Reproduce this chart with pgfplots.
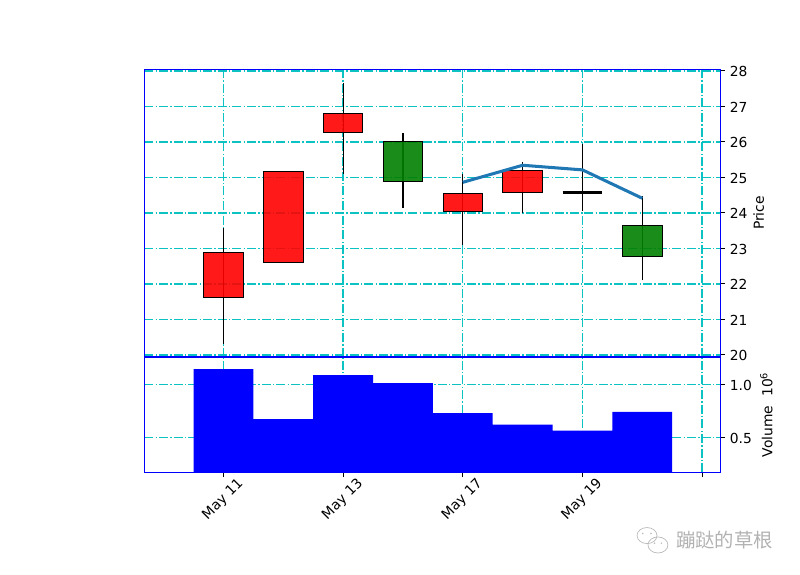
\documentclass[border=0pt]{standalone}
\usepackage{pgfplots}
\pgfplotsset{compat=1.18}
\usepackage{fontspec}
\setmainfont{DejaVu Sans}
\newfontfamily\cjk{Noto Sans CJK SC}
\definecolor{gridc}{rgb}{0,0.75,0.75}
\definecolor{tabblue}{HTML}{1F77B4}
\newcommand{\body}[4]{\addplot[draw=black,line width=0.75pt,fill=#4,fill opacity=0.9] coordinates {(#1-0.33,#2)(#1+0.33,#2)(#1+0.33,#3)(#1-0.33,#3)} -- cycle;}
\newcommand{\wick}[3]{\addplot[black,line width=0.8pt] coordinates {(#1,#2)(#1,#3)};}
\begin{document}
\begin{tikzpicture}
\path (0,0) rectangle (578.16pt,415.55pt);
\pgfplotsset{common/.style={
  scale only axis, anchor=south west,
  xmin=-1.32, xmax=8.30,
  xtick={0,2,4,6,8},
  axis line style={blue,line width=0.8pt},
  grid=major,
  major grid style={draw=gridc,draw opacity=0.95,line width=1pt,dash pattern=on 6.4pt off 1.6pt on 1pt off 1.6pt},
  ytick pos=right, yticklabel pos=right,
  tick align=outside, major tick style={draw=black,line width=0.6pt},
  major tick length=3.5pt,
  /pgf/number format/assume math mode=true,
  tick label style={font=\fontsize{10}{12}\selectfont},
  yticklabel style={yshift=-0.7pt},
  every axis y label/.style={at={(axis description cs:1,0.5)},rotate=90,anchor=center,font=\fontsize{10}{12}\selectfont},
}}
% Volume panel
\begin{axis}[common,
  at={(104.4pt,74.2pt)}, width=416pt, height=83.3pt,
  ymin=0.17, ymax=1.258,
  ytick={0.5,1.0}, yticklabels={0.5,1.0},
  xticklabels={May 11,May 13,May 17,May 19,},
  xtick pos=bottom,
  xticklabel style={rotate=45,anchor=center,xshift=-11.7pt,yshift=-11.3pt},
  ylabel={Volume\ \ 10\textsuperscript{6}},
  ylabel style={yshift=-33.5pt},
]
\addplot[ybar,bar width=1,bar shift=0pt,fill=blue,draw=none] coordinates {
(0,1.144)(1,0.672)(2,1.088)(3,1.012)(4,0.73)(5,0.62)(6,0.563)(7,0.74)};
\end{axis}
% Price panel
\begin{axis}[common,
  at={(104.4pt,157.8pt)}, width=416pt, height=207.6pt,
  ymin=19.95, ymax=28.04,
  ytick={20,21,...,28},
  xticklabels={},
  xtick style={draw=none},
  ylabel={Price},
  ylabel style={yshift=-28pt},
]
\wick{0}{20.32}{23.58}
\wick{2}{25.10}{27.67}
\wick{3}{24.14}{26.24}
\wick{4}{23.09}{25.08}
\wick{5}{23.99}{25.44}
\wick{6}{24.06}{25.93}
\wick{7}{22.10}{24.48}
\body{0}{21.61}{22.89}{red}
\body{1}{22.60}{25.17}{red}
\body{2}{26.27}{26.81}{red}
\body{3}{24.88}{26.02}{green!50!black}
\body{4}{24.03}{24.55}{red}
\body{5}{24.57}{25.20}{red}
\addplot[black,line width=1.7pt] coordinates {(5.67,24.57)(6.33,24.57)};
\body{7}{22.76}{23.65}{green!50!black}
\addplot[tabblue,line width=2.2pt] coordinates {(4,24.86)(5,25.34)(6,25.21)(7,24.41)};
\end{axis}
% Watermark
\node[anchor=center,text=gray!60,font=\cjk\fontsize{14}{16}\selectfont] at (523.7pt,25.3pt) {蹦跶的草根};
\begin{scope}[draw=gray!55,line width=0.5pt,fill=white]
\draw (467.6pt,28.5pt) ellipse (7.2pt and 5.8pt);
\draw (475.5pt,21.7pt) ellipse (7.2pt and 5.8pt);
\fill[gray!55] (464.5pt,30pt) circle (0.6pt) (470.5pt,30pt) circle (0.6pt) (473pt,23pt) circle (0.6pt) (478pt,23pt) circle (0.6pt);
\end{scope}
\end{tikzpicture}
\end{document}
